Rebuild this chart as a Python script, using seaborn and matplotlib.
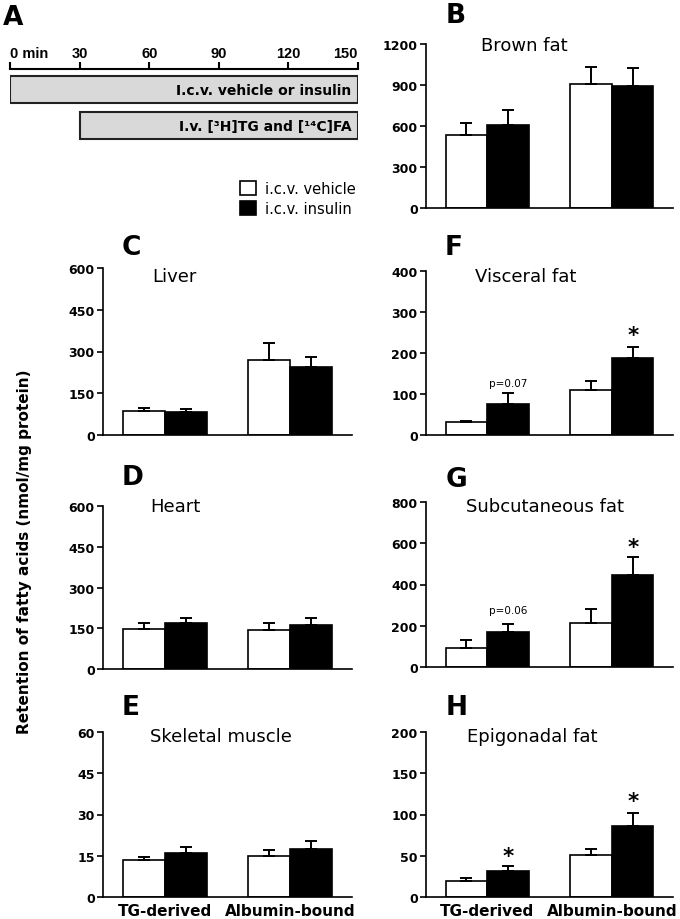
import matplotlib
matplotlib.use('Agg')
import matplotlib.pyplot as plt
import numpy as np
import pandas as pd
import seaborn as sns

sns.set_theme(style='ticks')
plt.rcParams['font.family'] = ['DejaVu Sans']
plt.rcParams['text.color'] = 'black'
plt.rcParams['axes.labelcolor'] = 'black'
plt.rcParams['xtick.color'] = 'black'
plt.rcParams['ytick.color'] = 'black'
plt.rcParams['axes.edgecolor'] = 'black'

W, H = 680, 920

groups = ['TG-derived', 'Albumin-bound']
treatments = ['i.c.v. vehicle', 'i.c.v. insulin']

# Panel A: protocol timeline
timeline_ticks = [0, 30, 60, 90, 120, 150]
timeline_labels = ['0 min', '30', '60', '90', '120', '150']
protocol_labels = ['I.c.v. vehicle or insulin', 'I.v. [³H]TG and [¹⁴C]FA']
protocol_start = [0, 30]
protocol_end = [150, 150]

# Means and upper SEM, order [TG-derived, Albumin-bound]
brown_veh = [534, 907];  brown_veh_err = [88, 125]
brown_ins = [607, 890];  brown_ins_err = [110, 132]

liver_veh = [87, 270];   liver_veh_err = [10, 62]
liver_ins = [83, 243];   liver_ins_err = [12, 39]

heart_veh = [149, 145];  heart_veh_err = [21, 25]
heart_ins = [168, 162];  heart_ins_err = [18, 24]

muscle_veh = [13.3, 15.0]; muscle_veh_err = [1.1, 2.0]
muscle_ins = [16.0, 17.6]; muscle_ins_err = [2.3, 2.6]

visceral_veh = [31, 109];  visceral_veh_err = [3, 22]
visceral_ins = [75, 187];  visceral_ins_err = [28, 27]

subcut_veh = [94, 212];   subcut_veh_err = [38, 69]
subcut_ins = [168, 444];  subcut_ins_err = [42, 91]

epi_veh = [19.7, 51.1];   epi_veh_err = [3.6, 6.9]
epi_ins = [31.0, 85.7];   epi_ins_err = [6.4, 16.1]

# annotations: (group index, treatment index, y, text)
visceral_notes = [(0, 1, 128, 'p=0.07'), (1, 1, 262, '*')]
subcut_notes = [(0, 1, 278, 'p=0.06'), (1, 1, 619, '*')]
epi_notes = [(0, 1, 58, '*'), (1, 1, 125, '*')]

ylabel = 'Retention of fatty acids (nmol/mg protein)'


def rect(l, r, t, b):
    return [l / W, 1 - b / H, (r - l) / W, (b - t) / H]


fig = plt.figure(figsize=(W / 100, H / 100), dpi=100)

# ---------------- Panel A ----------------
axA = fig.add_axes(rect(10, 358, 70, 145))
axA.barh(y=[0, 1], width=np.array(protocol_end) - np.array(protocol_start),
         left=protocol_start, height=0.76, color='#d9d9d9',
         edgecolor='#222222', linewidth=1.5)
for i, lab in enumerate(protocol_labels):
    axA.annotate(lab, xy=(protocol_end[i], i), xytext=(-4.5, 0),
                 textcoords='offset points', ha='right', va='center',
                 fontweight='bold', fontsize=10, color='black')
axA.set_xlim(0, 150)
axA.set_ylim(1.52, -0.59)
axA.set_xticks(timeline_ticks)
axA.set_xticklabels(timeline_labels)
axA.set_yticks([])
axA.xaxis.tick_top()
axA.tick_params(axis='x', top=True, bottom=False, labeltop=True,
                labelbottom=False, direction='out', length=5, width=1.5, pad=1.5)
for s in ['left', 'right', 'bottom']:
    axA.spines[s].set_visible(False)
axA.spines['top'].set_linewidth(1.5)
axA.set_facecolor('none')
tl = axA.get_xticklabels()
for k, lab in enumerate(tl):
    lab.set_fontfamily('Liberation Sans')
    lab.set_fontweight('bold')
    lab.set_fontsize(10.5)
tl[0].set_ha('left')
tl[-1].set_ha('right')

# ---------------- Bar panels ----------------
panels = [
    dict(letter='B', title='Brown fat', veh=brown_veh, ve=brown_veh_err, ins=brown_ins, ie=brown_ins_err,
         ymax=1200, ticks=[0, 300, 600, 900, 1200], box=(426, 673, 45, 209), toff=55, ty=46,
         notes=[], xlab=False, legend=False),
    dict(letter='C', title='Liver', veh=liver_veh, ve=liver_veh_err, ins=liver_ins, ie=liver_ins_err,
         ymax=600, ticks=[0, 150, 300, 450, 600], box=(103, 352, 269, 436), toff=49, ty=277,
         notes=[], xlab=False, legend=True),
    dict(letter='D', title='Heart', veh=heart_veh, ve=heart_veh_err, ins=heart_ins, ie=heart_ins_err,
         ymax=600, ticks=[0, 150, 300, 450, 600], box=(103, 352, 507, 670), toff=47, ty=507,
         notes=[], xlab=False, legend=False),
    dict(letter='E', title='Skeletal muscle', veh=muscle_veh, ve=muscle_veh_err, ins=muscle_ins, ie=muscle_ins_err,
         ymax=60, ticks=[0, 15, 30, 45, 60], box=(103, 352, 733, 898), toff=47, ty=737,
         notes=[], xlab=True, legend=False),
    dict(letter='F', title='Visceral fat', veh=visceral_veh, ve=visceral_veh_err, ins=visceral_ins, ie=visceral_ins_err,
         ymax=400, ticks=[0, 100, 200, 300, 400], box=(426, 673, 272, 436), toff=49, ty=277,
         notes=visceral_notes, xlab=False, legend=False),
    dict(letter='G', title='Subcutaneous fat', veh=subcut_veh, ve=subcut_veh_err, ins=subcut_ins, ie=subcut_ins_err,
         ymax=800, ticks=[0, 200, 400, 600, 800], box=(426, 673, 503, 668), toff=40, ty=507,
         notes=subcut_notes, xlab=False, legend=False),
    dict(letter='H', title='Epigonadal fat', veh=epi_veh, ve=epi_veh_err, ins=epi_ins, ie=epi_ins_err,
         ymax=200, ticks=[0, 50, 100, 150, 200], box=(426, 673, 733, 898), toff=41, ty=737,
         notes=epi_notes, xlab=True, legend=False),
]

letter_pos = {'A': (3, 25), 'B': (446, 23), 'C': (122, 255), 'D': (122, 485),
              'E': (122, 715), 'F': (445, 255), 'G': (446, 487), 'H': (446, 715)}

legend_ax = None
for p in panels:
    l, r, t, b = p['box']
    ax = fig.add_axes(rect(l, r, t, b))
    df = pd.DataFrame({
        'group': groups * 2,
        'treatment': [treatments[0]] * 2 + [treatments[1]] * 2,
        'value': list(p['veh']) + list(p['ins']),
    })
    sns.barplot(data=df, x='group', y='value', hue='treatment', order=groups,
                hue_order=treatments, palette=['white', 'black'], edgecolor='black',
                linewidth=1.2, width=0.667, gap=0, errorbar=None, saturation=1,
                legend=p['legend'], ax=ax)
    bar_conts = list(ax.containers)
    errs = [p['ve'], p['ie']]
    for hi, cont in enumerate(bar_conts):
        for gi, bar in enumerate(cont.patches):
            xc = bar.get_x() + bar.get_width() / 2
            top = bar.get_height()
            ax.errorbar([xc], [top], yerr=[[0], [errs[hi][gi]]], fmt='none',
                        ecolor='black', elinewidth=1.4, capsize=4.2, capthick=1.4, zorder=1)
    for gi, hi, yv, txt in p['notes']:
        bar = bar_conts[hi].patches[gi]
        xc = bar.get_x() + bar.get_width() / 2
        if txt == '*':
            ax.annotate(txt, xy=(xc, yv), xytext=(0, -0.62 * 15.5), textcoords='offset points',
                        ha='center', va='baseline', fontsize=15.5, fontweight='bold')
        else:
            ax.text(xc, yv, txt, ha='center', va='center', fontsize=7.5)
    ax.set_xlim(-0.49, 1.49)
    ax.set_ylim(0, p['ymax'])
    ax.set_yticks(p['ticks'])
    ax.set_yticklabels([str(v) for v in p['ticks']], fontweight='bold', fontsize=9)
    ax.set_ylabel('')
    ax.set_xlabel('')
    ax.tick_params(axis='y', direction='out', length=4, width=1.2, pad=2, colors='black')
    ax.tick_params(axis='x', length=0, pad=4, colors='black')
    if p['xlab']:
        ax.set_xticks([0, 1])
        ax.set_xticklabels(groups, fontweight='bold', fontsize=11)
    else:
        ax.set_xticklabels([])
    sns.despine(ax=ax)
    for s in ['left', 'bottom']:
        ax.spines[s].set_linewidth(1.2)
        ax.spines[s].set_color('black')
    ax.set_facecolor('none')
    fig.text((l + p['toff']) / W, 1 - p['ty'] / H, p['title'], ha='left', va='center',
             fontsize=13, color='black')
    if p['legend']:
        legend_ax = ax

if legend_ax is not None:
    sns.move_legend(legend_ax, loc='upper left', bbox_to_anchor=(240 / W, 1 - 182 / H),
                    bbox_transform=fig.transFigure, frameon=False, title=None,
                    fontsize=10.5, handlelength=1.1, handleheight=1.1,
                    handletextpad=0.6, labelspacing=0.35, borderaxespad=0, borderpad=0,
                    labelcolor='black')

for let, (x, y) in letter_pos.items():
    fig.text(x / W, 1 - y / H, let, ha='left', va='baseline', fontsize=19,
             fontweight='bold', color='black')

fig.text(25 / W, 1 - 552 / H, ylabel, rotation=90, ha='center', va='center',
         fontsize=11, fontweight='bold', color='black')

fig.savefig('out.png', dpi=100)
